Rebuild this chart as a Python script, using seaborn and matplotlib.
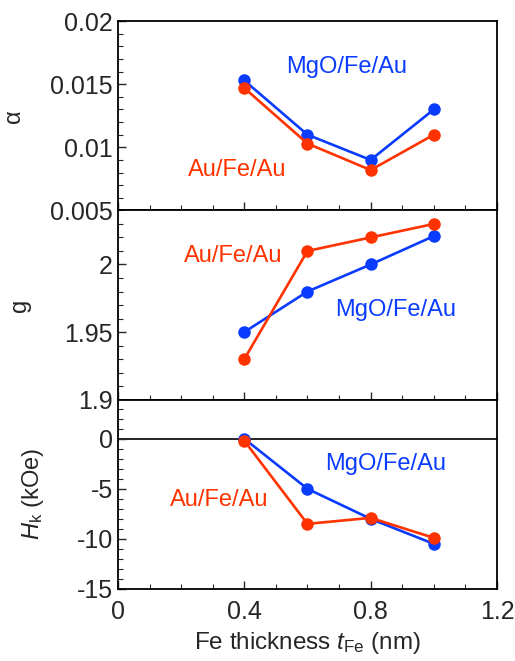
import numpy as np
import pandas as pd
import matplotlib
matplotlib.use("Agg")
import matplotlib.pyplot as plt
from matplotlib.ticker import MultipleLocator, FixedLocator
import seaborn as sns

# data
thickness = [0.4, 0.6, 0.8, 1.0]
alpha_mgo = [0.0153, 0.0110, 0.0090, 0.0130]
alpha_au = [0.0147, 0.0103, 0.0082, 0.0110]
g_mgo = [1.950, 1.980, 2.000, 2.021]
g_au = [1.930, 2.010, 2.020, 2.030]
hk_mgo = [0.0, -5.0, -8.0, -10.5]
hk_au = [-0.2, -8.5, -7.9, -9.9]

blue = "#0a3cff"
red = "#ff3300"

sns.set_style("ticks")
plt.rcParams['font.family'] = ['Liberation Sans', 'DejaVu Sans']
plt.rcParams['mathtext.fontset'] = 'custom'
plt.rcParams['mathtext.it'] = 'Liberation Sans:italic'
plt.rcParams['mathtext.rm'] = 'Liberation Sans'

fig, axes = plt.subplots(3, 1, figsize=(5.15, 6.61), dpi=100, sharex=True,
                         gridspec_kw=dict(hspace=0))
fig.subplots_adjust(left=0.229, right=0.965, top=0.968, bottom=0.109)

panels = [
    (alpha_mgo, alpha_au, "α", (0.005, 0.02), 0.001),
    (g_mgo, g_au, "g", (1.9, 2.04), 0.01),
    (hk_mgo, hk_au, "$H_\\mathrm{k}$ (kOe)", (-15, 3.9), 1),
]

for ax, (mgo, au, lab, ylim, minor) in zip(axes, panels):
    df = pd.DataFrame({"t": thickness * 2, "v": mgo + au,
                       "s": ["MgO/Fe/Au"] * 4 + ["Au/Fe/Au"] * 4})
    sns.lineplot(data=df, x="t", y="v", hue="s", palette={"MgO/Fe/Au": blue, "Au/Fe/Au": red},
                 marker="o", markersize=9, markeredgewidth=0, linewidth=1.9,
                 ax=ax, legend=False)
    ax.set_ylim(*ylim)
    ax.set_xlim(0, 1.2)
    ax.set_ylabel(lab, fontsize=17)
    ax.set_xlabel("")
    ax.xaxis.set_major_locator(MultipleLocator(0.4))
    ax.xaxis.set_minor_locator(MultipleLocator(0.1))
    ax.yaxis.set_minor_locator(MultipleLocator(minor))
    ax.tick_params(which="both", direction="in", top=False, right=False, labelsize=18)
    ax.tick_params(which="major", length=6, width=1)
    ax.tick_params(which="minor", length=3.5, width=0.8)
    for sp in ax.spines.values():
        sp.set_linewidth(1.3)
        sp.set_color("black")

axes[0].yaxis.set_major_locator(FixedLocator([0.005, 0.01, 0.015, 0.02]))
axes[0].set_yticklabels(["0.005", "0.01", "0.015", "0.02"])
axes[1].yaxis.set_major_locator(FixedLocator([1.9, 1.95, 2.0]))
axes[1].set_yticklabels(["1.9", "1.95", "2"])
axes[2].yaxis.set_major_locator(FixedLocator([-15, -10, -5, 0]))
axes[2].set_yticklabels(["-15", "-10", "-5", "0"])
axes[2].axhline(0, color="black", linewidth=1.2, zorder=0)

axes[0].yaxis.set_label_coords(-0.245, 0.5)
axes[1].yaxis.set_label_coords(-0.23, 0.5)
axes[2].yaxis.set_label_coords(-0.19, 0.5)

axes[2].set_xticks([0, 0.4, 0.8, 1.2])
axes[2].set_xticklabels(["0", "0.4", "0.8", "1.2"])
axes[2].tick_params(axis="x", pad=8)
axes[2].set_xlabel("Fe thickness $t_\\mathrm{Fe}$ (nm)", fontsize=17.5, labelpad=4)

# series labels
fs = 17
axes[0].text(0.723, 0.01635, "MgO/Fe/Au", color=blue, fontsize=fs, ha="center", va="center")
axes[0].text(0.377, 0.0082, "Au/Fe/Au", color=red, fontsize=fs, ha="center", va="center")
axes[1].text(0.364, 2.0066, "Au/Fe/Au", color=red, fontsize=fs, ha="center", va="center")
axes[1].text(0.88, 1.966, "MgO/Fe/Au", color=blue, fontsize=fs, ha="center", va="center")
axes[2].text(0.849, -2.5, "MgO/Fe/Au", color=blue, fontsize=fs, ha="center", va="center")
axes[2].text(0.32, -6.1, "Au/Fe/Au", color=red, fontsize=fs, ha="center", va="center")

fig.savefig("out.png", dpi=100)
